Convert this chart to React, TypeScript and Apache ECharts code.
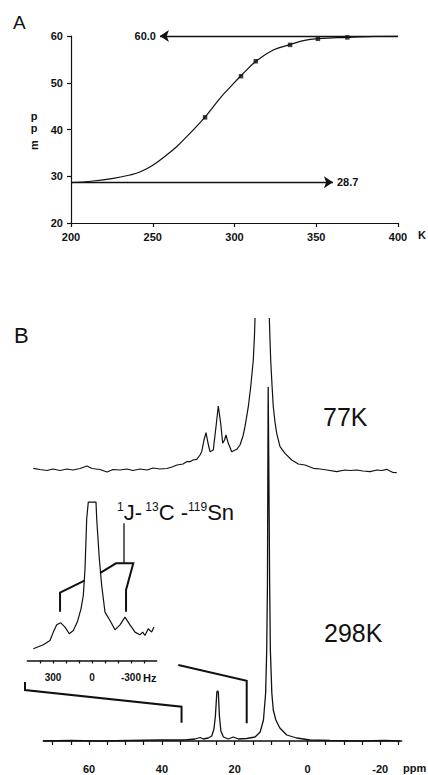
import React, { useEffect, useRef } from "react";
import * as echarts from "echarts";

const FONT = "'Liberation Sans', Arial, Helvetica, sans-serif";
const INK = "#111111";

// ---------- Panel A: chemical shift vs temperature ----------
const curveT = [200, 213.6, 225.9, 236.1, 242.2, 250.3, 258.5, 264.6, 270.8, 281.8, 291.1, 297.2, 303.8, 313.1, 323.7, 334, 342.1, 351.2, 369.2, 384.9, 398.2, 400];
const curvePpm = [28.62, 28.98, 29.56, 30.27, 30.9, 32.4, 34.55, 36.32, 38.46, 42.6, 46.67, 49.0, 51.44, 54.59, 57.0, 58.14, 59.0, 59.43, 59.72, 59.93, 60.0, 60.0];
const pointT = [282, 304, 313, 334, 351, 369];
const pointPpm = [42.6, 51.4, 54.6, 58.1, 59.4, 59.7];
const limitHigh = 60.0;
const limitLow = 28.7;
const arrowHighEndT = 254.4;
const arrowLowEndT = 360.2;
const tempTicks = { min: 200, max: 400, step: 50 };
const ppmTicksA = { min: 20, max: 60, step: 10 };

// ---------- Panel B: 13C spectra ----------
const ppmAxisTicks = [-25, -20, -15, -10, -5, 0, 5, 10, 15, 20, 25, 30, 35, 40, 45, 50, 55, 60, 65, 70];
const ppmAxisLabels = [-20, 0, 20, 40, 60];

// 298 K spectrum (ppm, intensity)
const s298Ppm = [72.6, 65.2, 57.0, 48.8, 40.5, 33.7, 30.9, 29.5, 28.6, 27.3, 26.3, 25.7, 25.3, 24.9, 24.7, 24.5, 24.2, 23.8, 23.1, 21.8, 20.4, 19.0, 16.7, 14.4, 13.0, 12.1, 11.5, 11.2, 11.0, 10.9, 10.8, 10.6, 10.4, 10.2, 9.8, 9.4, 8.7, 7.6, 5.7, 3.0, -0.7, -6.2, -14.4, -21.3, -25.4];
const s298Int = [0, 0.5, 0, 0.5, 1, 1, 2, 3.5, 2, 3, 5, 12, 25, 49, 50, 49, 25, 10, 4, 2, 4, 2, 2.5, 4, 9, 21, 48, 91, 158, 261, 354, 261, 158, 91, 48, 31, 21, 13, 6, 3, 1, 0.5, 0, 0.5, 0];

// 77 K spectrum (ppm, intensity relative to its own baseline; null = off-scale top)
const s77Offset = 272;
const s77Ppm = [75.33, 73.49, 71.57, 69.92, 68.0, 66.07, 64.42, 62.5, 60.58, 59.2, 57.01, 55.08, 53.43, 51.51, 49.59, 47.94, 46.02, 44.09, 42.45, 40.52, 38.6, 37.23, 35.85, 34.2, 33.1, 32.28, 31.46, 30.44, 29.53, 29.07, 28.43, 27.88, 27.34, 26.79, 25.88, 25.14, 24.51, 23.85, 23.3, 22.8, 22.39, 21.76, 20.82, 19.45, 18.54, 17.72, 17.17, 16.26, 15.6, 14.89, 14.56, 14.42, 12.45, 10.49, 10.3, 10.11, 9.75, 9.4, 8.93, 8.46, 7.55, 6.18, 4.34, 2.53, 0.69, -1.59, -3.43, -5.36, -8.02, -10.3, -11.68, -13.52, -15.25, -17.17, -19.09, -20.47, -21.76, -22.66, -23.49, -24.51];
const s77Int = [0.7, -0.5, -1.5, 0, -1.5, 0, -1, 0.5, 3, 0.5, -0.5, -3, -0.5, -1, 0, -1.5, 0, -1, 1, 0, 0.5, 2, 4, 5, 7.5, 7.3, 9, 9.7, 14, 17.3, 29, 36.3, 26, 17.3, 19, 42.3, 63, 45.7, 25.7, 29, 34, 25.7, 17.3, 19.7, 24, 33, 42.3, 62.3, 82.3, 109, 134, 151, null, 151, 129, 109, 84, 62.3, 47, 35.7, 22.3, 15.7, 9, 5, 4, 0.7, 0, -1, -2.7, -1, -1.5, -1, -2, -2.7, -1, -1.5, -0.3, -2, -3.5, -3.7];

// Inset: expansion of the ~25 ppm signal (Hz, intensity)
const insetHz = [451.5, 374.6, 323.1, 297.7, 271.5, 240.8, 207.7, 174.6, 143.8, 113.1, 84.6, 66.9, 53.8, 40.8, 28.5, -30.8, -36.2, -56.2, -74.6, -100, -138.5, -176.9, -215.4, -253.8, -292.3, -330.8, -369.2, -390, -407.7, -433.1, -459.2, -476.9];
const insetInt = [11.7, 15.7, 20, 28.4, 35.7, 37.7, 33.4, 26.7, 30, 38.4, 51.7, 65, 91.7, 141.7, 158.4, 158.4, 141.7, 101.7, 75, 48.4, 40, 30.7, 35.7, 43.4, 35.7, 28.4, 25.7, 28.4, 25, 31.7, 28.4, 33.4];
const insetTicks = [-400, -300, -200, -100, 0, 100, 200, 300, 400];
const insetLabels = [300, 0, -300];
const expansionPpm = [34.6, 16.7];
const satelliteHz = [246, -262];

function build(a: number[], b: (number | null)[], off = 0) {
  return a.map((x, i) => [x, b[i] == null ? "-" : (b[i] as number) + off]);
}

const tickLabel = { color: INK, fontFamily: FONT, fontWeight: "bold" as const, fontSize: 11 };

export default function App() {
  const ref = useRef<HTMLDivElement>(null);
  useEffect(() => {
    const chart = echarts.init(ref.current!, null, { renderer: "svg" });
    const option: any = {
      animation: false,
      backgroundColor: "#ffffff",
      textStyle: { fontFamily: FONT, color: INK },
      grid: [
        { left: 71, top: 36, width: 327, height: 187, outerBoundsMode: "none" },
        { left: 43.3, top: 318, width: 358.4, height: 436, outerBoundsMode: "none" },
        { left: 33.3, top: 318, width: 368.4, height: 436, outerBoundsMode: "none" },
        { left: 27.3, top: 500, width: 129.4, height: 160.5, outerBoundsMode: "none" },
      ],
      xAxis: [
        {
          gridIndex: 0, type: "value", min: tempTicks.min, max: tempTicks.max, interval: tempTicks.step,
          axisLine: { show: true, lineStyle: { color: INK, width: 1.2 } },
          axisTick: { show: true, length: 4, lineStyle: { color: INK, width: 1.2 } },
          axisLabel: { ...tickLabel, margin: 8 },
          splitLine: { show: false },
        },
        {
          gridIndex: 1, type: "value", inverse: true, min: -25.88, max: 72.58,
          axisLine: { show: true, lineStyle: { color: INK, width: 1.5 } },
          axisTick: { show: true, length: 4, customValues: ppmAxisTicks, lineStyle: { color: INK, width: 1.2 } },
          axisLabel: { ...tickLabel, margin: 9, customValues: ppmAxisLabels },
          splitLine: { show: false },
        },
        { gridIndex: 2, type: "value", inverse: true, min: -25.88, max: 75.33, show: false },
        {
          gridIndex: 3, type: "value", inverse: true, min: -498, max: 498,
          axisLine: { show: true, lineStyle: { color: INK, width: 1.5 } },
          axisTick: { show: true, length: 3, customValues: insetTicks, lineStyle: { color: INK, width: 1.2 } },
          axisLabel: { ...tickLabel, fontSize: 10, margin: 12, customValues: insetLabels },
          splitLine: { show: false },
        },
      ],
      yAxis: [
        {
          gridIndex: 0, type: "value", min: ppmTicksA.min, max: ppmTicksA.max, interval: ppmTicksA.step,
          axisLine: { show: true, lineStyle: { color: INK, width: 1.2 } },
          axisTick: { show: true, length: 4, lineStyle: { color: INK, width: 1.2 } },
          axisLabel: { ...tickLabel, margin: 8 },
          splitLine: { show: false },
        },
        { gridIndex: 1, type: "value", min: -13, max: 423, show: false },
        { gridIndex: 2, type: "value", min: -13, max: 423, show: false },
        { gridIndex: 3, type: "value", min: 0, max: 160.5, show: false },
      ],
      series: [
        {
          type: "line", xAxisIndex: 0, yAxisIndex: 0, smooth: 0.4, showSymbol: false,
          data: curveT.map((t, i) => [t, curvePpm[i]]),
          lineStyle: { color: INK, width: 1.2 },
          markLine: {
            silent: true,
            symbol: ["none", "arrow"],
            symbolSize: 9,
            lineStyle: { color: INK, width: 1.3, type: "solid" },
            label: {
              show: true, position: "end", distance: 4,
              color: INK, fontFamily: FONT, fontWeight: "bold", fontSize: 11,
              formatter: (p: any) => Number(p.value).toFixed(1),
            },
            data: [
              [{ coord: [tempTicks.max, limitHigh], value: limitHigh }, { coord: [arrowHighEndT, limitHigh] }],
              [{ coord: [tempTicks.min, limitLow], value: limitLow }, { coord: [arrowLowEndT, limitLow] }],
            ],
          },
        },
        {
          type: "scatter", xAxisIndex: 0, yAxisIndex: 0, symbol: "rect", symbolSize: 4.5,
          data: pointT.map((t, i) => [t, pointPpm[i]]),
          itemStyle: { color: INK },
        },
        {
          type: "line", xAxisIndex: 1, yAxisIndex: 1, showSymbol: false,
          data: build(s298Ppm, s298Int),
          lineStyle: { color: INK, width: 1.3 },
        },
        {
          type: "line", xAxisIndex: 2, yAxisIndex: 2, showSymbol: false, connectNulls: false,
          data: build(s77Ppm, s77Int, s77Offset),
          lineStyle: { color: INK, width: 1.2 },
        },
        {
          type: "line", xAxisIndex: 3, yAxisIndex: 3, showSymbol: false,
          data: build(insetHz, insetInt),
          lineStyle: { color: INK, width: 1.2 },
        },
      ],
    };
    chart.setOption(option);

    const xB = (p: number) => chart.convertToPixel({ xAxisIndex: 1 }, p) as unknown as number;
    const xI = (h: number) => chart.convertToPixel({ xAxisIndex: 3 }, h) as unknown as number;
    const e0 = xB(expansionPpm[0]);
    const e1 = xB(expansionPpm[1]);
    const sL = xI(satelliteHz[0]);
    const sR = xI(satelliteHz[1]);
    const pl = (points: number[][], w = 2) => ({
      type: "polyline", silent: true,
      shape: { points },
      style: { stroke: INK, lineWidth: w, fill: "none" },
    });
    const txt = (text: string, x: number, y: number, size: number, extra: any = {}) => ({
      type: "text", x, y, silent: true,
      style: { text, fill: INK, fontFamily: FONT, fontSize: size, verticalAlign: "middle", ...extra },
    });

    chart.setOption({
      graphic: [
        txt("A", 13, 22, 19),
        txt("B", 14, 335, 22),
        txt("p", 34, 116, 11, { fontWeight: "bold", align: "center" }),
        txt("p", 34, 128, 11, { fontWeight: "bold", align: "center" }),
        { ...txt("m", 34, 145, 11, { fontWeight: "bold", align: "center" }), rotation: Math.PI / 2 },
        txt("K", 418, 235, 11, { fontWeight: "bold" }),
        txt("77K", 323, 417, 25),
        txt("298K", 324, 633, 25),
        txt("ppm", 403, 768, 11, { fontWeight: "bold" }),
        txt("Hz", 143, 678, 11, { fontWeight: "bold" }),
        {
          type: "text", x: 117, y: 512, silent: true,
          style: {
            text: "{s|1}{b|J-}{s| 13}{b|C }{b|-}{s|119}{b|Sn}",
            fill: INK, fontFamily: FONT, verticalAlign: "middle",
            rich: {
              s: { fontSize: 12, fontFamily: FONT, fill: INK, verticalAlign: "top" },
              b: { fontSize: 22, fontFamily: FONT, fill: INK, verticalAlign: "bottom" },
            },
          },
        },
        pl([[25, 682], [25, 690], [e0, 706.7], [e0, 722.7]]),
        pl([[178.3, 665], [e1, 680.7], [e1, 723.3]]),
        pl([[sL, 611.7], [sL, 592.7], [84.5, 580.7]]),
        pl([[100.7, 572.7], [116, 563.3], [133.3, 563.3], [sR, 590], [sR, 611.7]]),
        pl([[124, 523.3], [124, 563.3]], 1.3),
      ],
    });

    return () => chart.dispose();
  }, []);
  return <div ref={ref} style={{ position: "absolute", left: 0, top: 0, width: 428, height: 775 }} />;
}
